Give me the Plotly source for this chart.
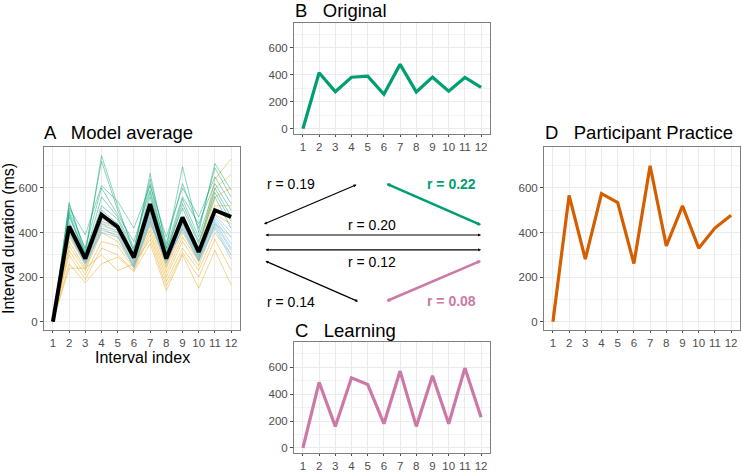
import plotly.graph_objects as go

W, H = 742, 472

idx = list(range(1, 13))
tick_vals = list(range(1, 13))
tick_text = [str(i) for i in tick_vals]

original = [0, 415, 275, 382, 390, 255, 477, 273, 382, 278, 380, 306]
learning = [0, 487, 160, 520, 470, 180, 570, 160, 535, 180, 592, 228]
practice = [0, 567, 281, 575, 534, 261, 700, 340, 520, 330, 420, 478]
model_avg = [0, 428, 283, 480, 425, 288, 528, 283, 468, 313, 500, 470]

green_runs = [
    [0, 535, 300, 745, 520, 310, 665, 330, 695, 400, 710, 590],
    [0, 525, 320, 720, 500, 330, 640, 350, 620, 420, 690, 560],
    [0, 510, 390, 610, 540, 420, 610, 380, 600, 470, 650, 530],
    [0, 500, 330, 600, 480, 360, 590, 330, 560, 440, 620, 500],
    [0, 490, 300, 560, 470, 320, 620, 310, 550, 380, 600, 470],
    [0, 480, 290, 520, 460, 300, 580, 300, 530, 360, 580, 450],
    [0, 470, 310, 500, 440, 290, 560, 320, 510, 350, 560, 420],
]
blue_runs = [
    [0, 450, 300, 460, 440, 290, 500, 300, 470, 320, 480, 400],
    [0, 440, 290, 450, 430, 280, 490, 290, 460, 300, 470, 380],
    [0, 430, 280, 440, 420, 270, 480, 280, 450, 290, 460, 350],
    [0, 420, 270, 430, 410, 260, 470, 270, 440, 290, 450, 330],
    [0, 410, 260, 420, 400, 250, 460, 260, 430, 280, 440, 320],
    [0, 400, 250, 410, 390, 245, 450, 265, 420, 275, 430, 300],
    [0, 390, 265, 400, 380, 240, 440, 280, 410, 270, 420, 280],
]
orange_runs = [
    [0, 420, 280, 470, 440, 290, 510, 290, 460, 310, 640, 730],
    [0, 400, 270, 450, 420, 280, 490, 270, 440, 300, 600, 660],
    [0, 380, 260, 440, 400, 270, 470, 250, 420, 290, 560, 600],
    [0, 360, 240, 420, 380, 260, 450, 240, 400, 280, 520, 520],
    [0, 340, 230, 400, 360, 250, 430, 220, 380, 270, 480, 440],
    [0, 320, 210, 360, 340, 240, 410, 200, 360, 250, 440, 380],
    [0, 300, 190, 330, 300, 230, 390, 180, 330, 230, 400, 300],
    [0, 240, 240, 300, 230, 260, 370, 160, 310, 200, 370, 230],
    [0, 260, 175, 260, 290, 225, 350, 140, 300, 150, 320, 165],
]

corr_labels = ["r = 0.19", "r = 0.22", "r = 0.20", "r = 0.12", "r = 0.14", "r = 0.08"]

GREEN = "#009E73"
PINK = "#CC79A7"
ORANGE_D = "#D55E00"
FONT = "Liberation Sans, Arial, sans-serif"


def fx(p):
    return p / W


def fy(p):
    return 1 - p / H


fig = go.Figure()

# Panel A thin lines
for run in orange_runs:
    fig.add_trace(go.Scatter(x=idx, y=run, mode="lines", xaxis="x", yaxis="y",
                             line=dict(color="rgba(230,159,0,0.45)", width=1), showlegend=False, hoverinfo="skip"))
for run in blue_runs:
    fig.add_trace(go.Scatter(x=idx, y=run, mode="lines", xaxis="x", yaxis="y",
                             line=dict(color="rgba(86,180,233,0.45)", width=1), showlegend=False, hoverinfo="skip"))
for run in green_runs:
    fig.add_trace(go.Scatter(x=idx, y=run, mode="lines", xaxis="x", yaxis="y",
                             line=dict(color="rgba(0,158,115,0.45)", width=1), showlegend=False, hoverinfo="skip"))
fig.add_trace(go.Scatter(x=idx, y=model_avg, mode="lines", xaxis="x", yaxis="y",
                         line=dict(color="black", width=4), showlegend=False))

fig.add_trace(go.Scatter(x=idx, y=original, mode="lines", xaxis="x2", yaxis="y2",
                         line=dict(color=GREEN, width=3.2), showlegend=False))
fig.add_trace(go.Scatter(x=idx, y=learning, mode="lines", xaxis="x3", yaxis="y3",
                         line=dict(color=PINK, width=3.2), showlegend=False))
fig.add_trace(go.Scatter(x=idx, y=practice, mode="lines", xaxis="x4", yaxis="y4",
                         line=dict(color=ORANGE_D, width=3.2), showlegend=False))

panels = {
    "": (44, 240, 148, 333),
    "2": (294, 490, 23, 135),
    "3": (294, 490, 345, 457),
    "4": (544, 740, 148, 333),
}

YR = [-38, 785]
layout = dict(
    width=W, height=H,
    margin=dict(l=0, r=0, t=0, b=0),
    paper_bgcolor="white", plot_bgcolor="white",
    font=dict(family=FONT, color="#4D4D4D", size=11),
    showlegend=False,
)
for k, (x0, x1, y0, y1) in panels.items():
    xa = "xaxis" + k
    ya = "yaxis" + k
    layout[xa] = dict(
        domain=[fx(x0), fx(x1)], anchor="y" + k, range=[0.45, 12.55],
        tickmode="array", tickvals=tick_vals, ticktext=tick_text,
        showgrid=True, gridcolor="#EBEBEB", gridwidth=1,
        showline=True, linecolor="#7F7F7F", linewidth=1, mirror=True,
        ticks="outside", ticklen=2, tickcolor="#4D4D4D", tickwidth=1,
        tickfont=dict(size=11.5, color="#4D4D4D"), zeroline=False,
    )
    layout[ya] = dict(
        domain=[fy(y1), fy(y0)], anchor="x" + k, range=YR,
        tickmode="array", tickvals=[0, 200, 400, 600],
        showgrid=True, gridcolor="#EBEBEB", gridwidth=1,
        minor=dict(tickmode="array", tickvals=[100, 300, 500, 700], showgrid=True,
                   gridcolor="#F3F3F3", gridwidth=0.6, ticks=""),
        showline=True, linecolor="#7F7F7F", linewidth=1, mirror=True,
        ticks="outside", ticklen=3, tickcolor="#4D4D4D", tickwidth=1,
        tickfont=dict(size=11.5, color="#4D4D4D"), zeroline=False,
    )

layout["yaxis"]["title"] = dict(text="Interval duration (ms)", font=dict(size=16, color="black"), standoff=2)

annotations = []
# x-axis title of panel A
annotations.append(dict(text="Interval index", x=fx(142), y=fy(361), xref="paper", yref="paper",
                        xanchor="center", yanchor="middle", showarrow=False,
                        font=dict(size=16, color="black", family=FONT)))
titles = [
    ("A   Model average", 42, 134),
    ("B   Original", 293, 11),
    ("C   Learning", 293, 333),
    ("D   Participant Practice", 543, 134),
]
for t, x, y in titles:
    annotations.append(dict(text=t, x=fx(x), y=fy(y), xref="paper", yref="paper",
                            xanchor="left", yanchor="middle", showarrow=False,
                            font=dict(size=18.5, color="black", family=FONT)))

# Correlation arrows (head, tail in pixels)
arrows = [
    ((264, 226), (358, 186), "black", 1.2, 0.5),
    ((481, 227), (385, 185), GREEN, 2.6, 0.3),
    ((481, 237), (264, 237), "black", 1.2, 0.5),
    ((481, 252), (264, 252), "black", 1.2, 0.5),
    ((358, 304), (264, 263), "black", 1.2, 0.5),
    ((481, 263), (385, 304), PINK, 2.6, 0.3),
]
for (hx, hy), (tx, ty), col, w, s in arrows:
    annotations.append(dict(text="", x=fx(hx), y=fy(hy), xref="paper", yref="paper",
                            ax=tx - hx, ay=ty - hy, axref="pixel", ayref="pixel",
                            showarrow=True, arrowhead=2, arrowside="end+start",
                            arrowsize=s, arrowwidth=w, arrowcolor=col,
                            standoff=0, startstandoff=0))

label_pos = [
    (291, 186, "black", False),
    (452, 186, GREEN, True),
    (372, 227, "black", False),
    (372, 264, "black", False),
    (291, 305, "black", False),
    (452, 304, PINK, True),
]
for lab, (x, y, col, bold) in zip(corr_labels, label_pos):
    txt = "<b>%s</b>" % lab if bold else lab
    annotations.append(dict(text=txt, x=fx(x), y=fy(y), xref="paper", yref="paper",
                            xanchor="center", yanchor="middle", showarrow=False,
                            font=dict(size=14, color=col, family=FONT)))

layout["annotations"] = annotations
fig.update_layout(**layout)
fig.write_html("out.html", config={"displayModeBar": False},
               post_script="document.body.style.margin='0';document.body.style.overflow='hidden';")
